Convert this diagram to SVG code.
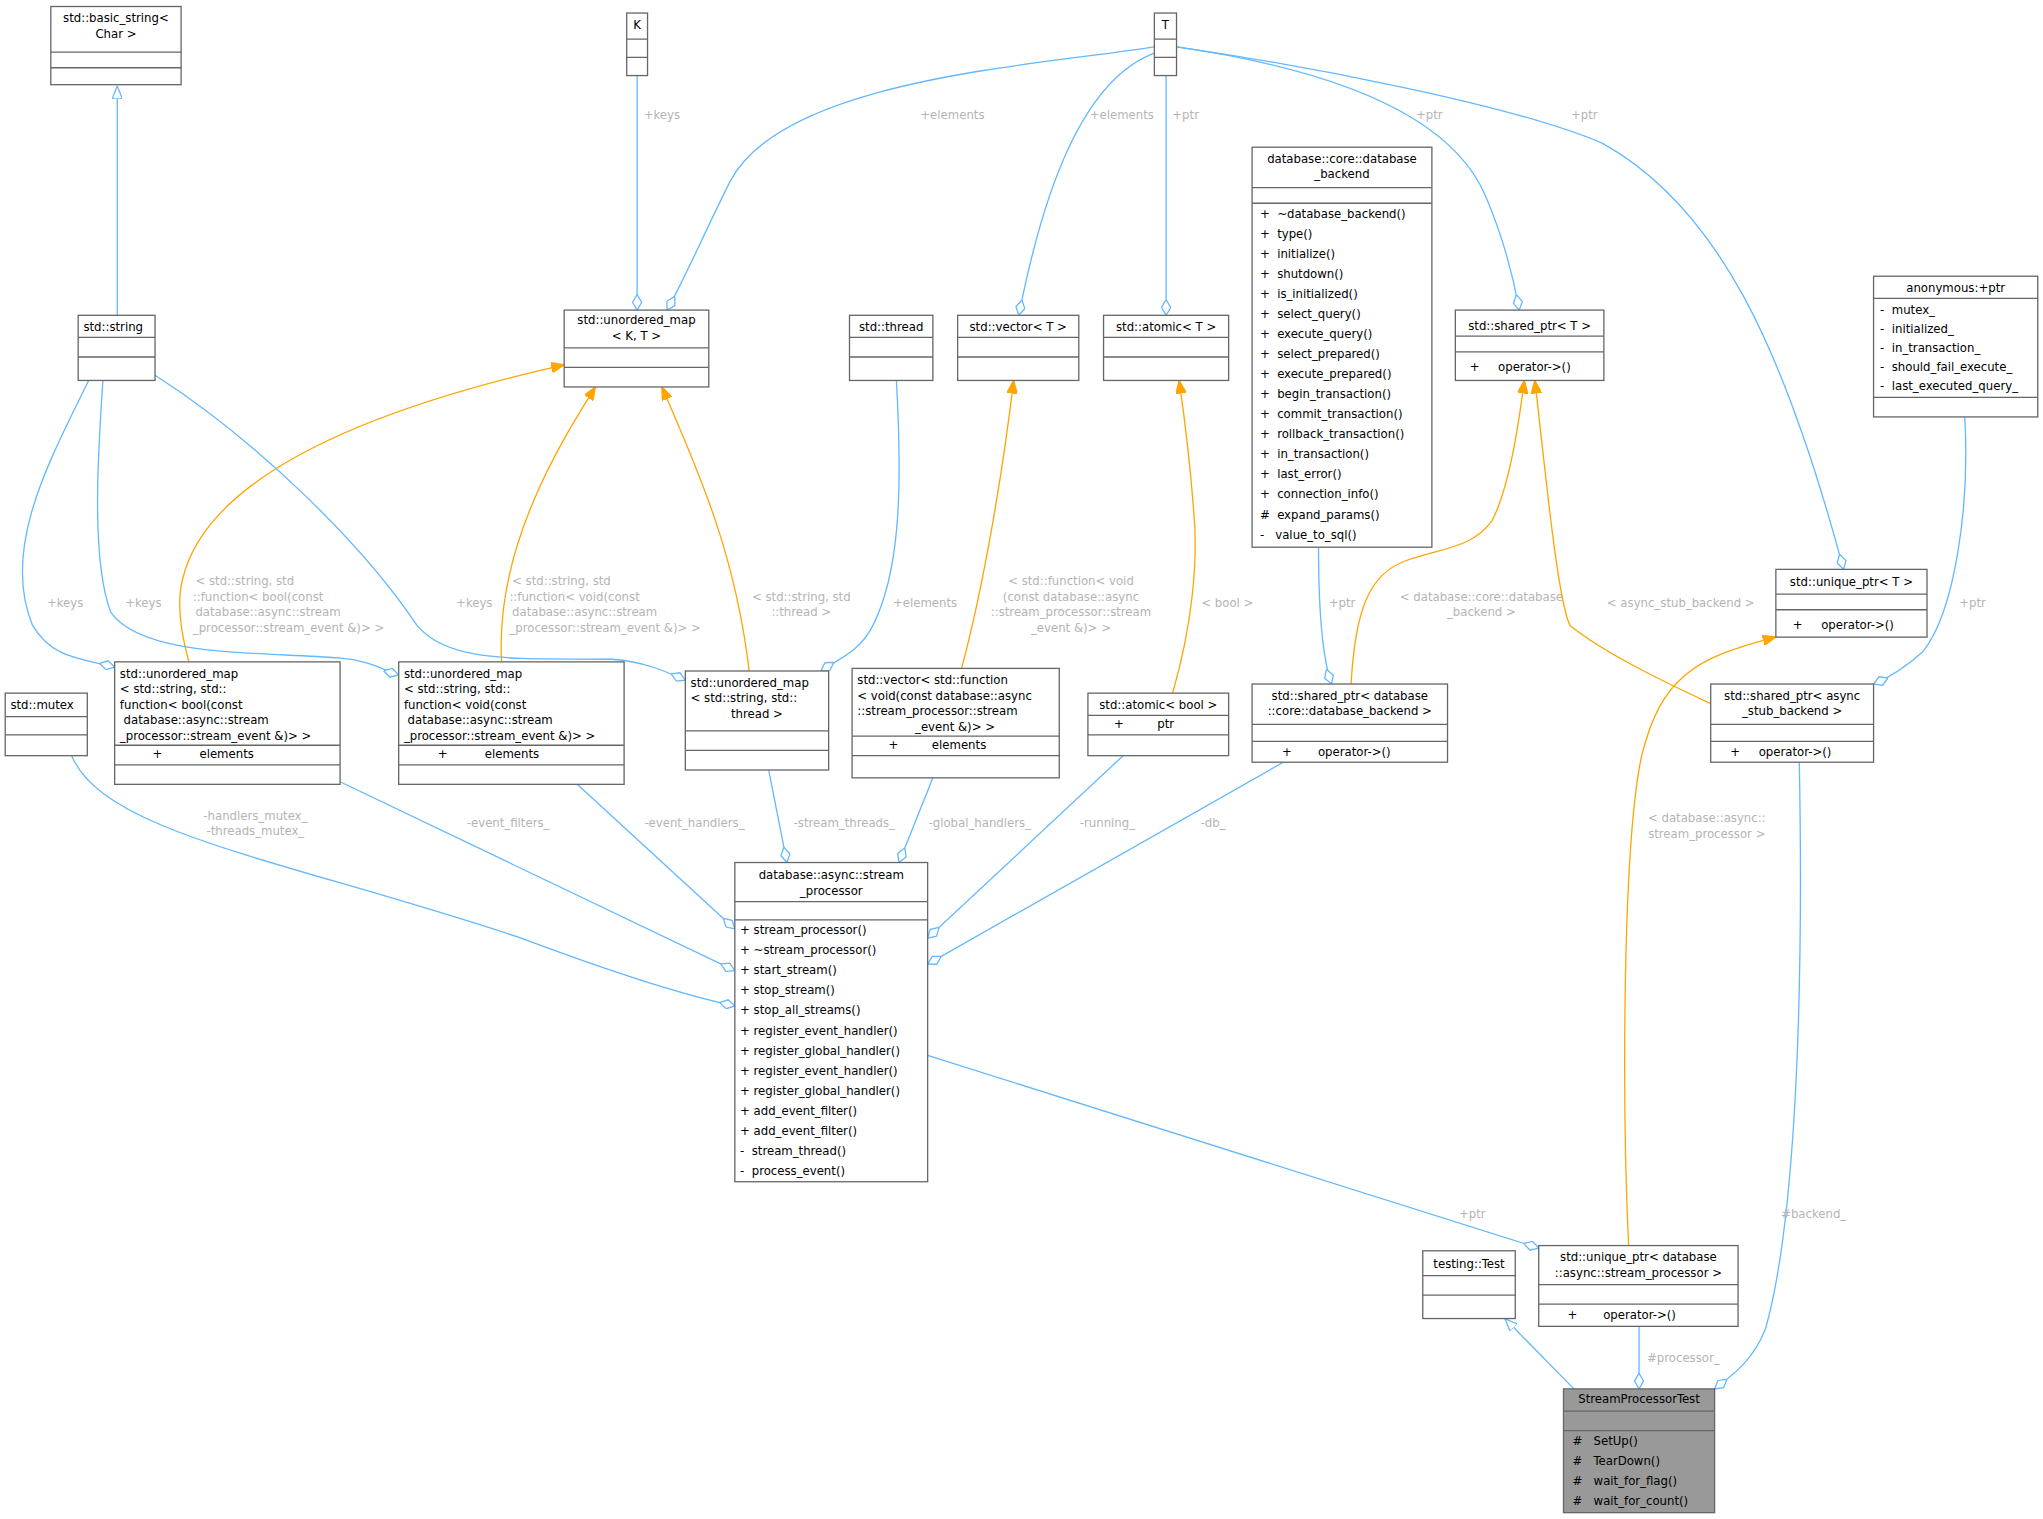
<svg xmlns="http://www.w3.org/2000/svg" width="2043" height="1519" viewBox="0 0 2043 1519" xml:space="preserve">
<style>
text{font-family:"DejaVu Sans Condensed","DejaVu Sans",sans-serif;font-size:10px;fill:#000;white-space:pre}
.m{text-anchor:middle}
.b{fill:#fff;stroke:#666;stroke-width:1}
.g{fill:#999;stroke:#666;stroke-width:1}
.s{stroke:#666;stroke-width:1}
.lbl{fill:#b4b4b4;text-anchor:middle}
.e{fill:none;stroke:#63b8ff;stroke-width:1;marker-end:url(#dia)}
.o{fill:none;stroke:#ffa500;stroke-width:1;marker-end:url(#arr)}
.i{fill:none;stroke:#63b8ff;stroke-width:1;marker-end:url(#tri)}
</style>
<defs>
<marker id="dia" viewBox="0 0 12 8" refX="12" refY="4" markerWidth="12" markerHeight="8" orient="auto" markerUnits="userSpaceOnUse"><path d="M0,4L6,0.5L12,4L6,7.5Z" fill="#fff" stroke="#63b8ff"/></marker>
<marker id="arr" viewBox="0 0 10 8" refX="10" refY="4" markerWidth="10" markerHeight="8" orient="auto" markerUnits="userSpaceOnUse"><path d="M0,0L10,4L0,8Z" fill="#ffa500" stroke="#ffa500"/></marker>
<marker id="tri" viewBox="0 0 10 8" refX="10" refY="4" markerWidth="10" markerHeight="8" orient="auto" markerUnits="userSpaceOnUse"><path d="M0,0L10,4L0,8Z" fill="#fff" stroke="#63b8ff"/></marker>
</defs>
<rect width="2043" height="1519" fill="#fff"/>
<g transform="scale(1.3029)">
<g id="edges">
<path class="i" d="M90,242L90,66"/>
<path class="e" d="M489,58L489,238"/><text class="lbl" x="508" y="91">+keys</text>
<path class="e" d="M886,36C800,50 600,60 560,140C540,180 525,215 512,238"/><text class="lbl" x="731" y="91">+elements</text>
<path class="e" d="M888,40C830,60 800,150 782,242"/><text class="lbl" x="861" y="91">+elements</text>
<path class="e" d="M895,58L895,242"/><text class="lbl" x="910" y="91">+ptr</text>
<path class="e" d="M903,36C1000,50 1110,80 1140,150C1155,185 1162,215 1166,238"/><text class="lbl" x="1097" y="91">+ptr</text>
<path class="e" d="M903,36C1000,50 1160,80 1230,110C1320,160 1370,270 1415,437"/><text class="lbl" x="1216" y="91">+ptr</text>
<path class="e" d="M1012,420C1012,470 1015,505 1022,525"/><text class="lbl" x="1030" y="466">+ptr</text>
<path class="e" d="M1508,320C1512,390 1500,470 1476,500C1465,510 1450,520 1438,525"/><text class="lbl" x="1514" y="466">+ptr</text>
<path class="o" d="M1037,525C1040,470 1050,440 1080,430C1110,420 1130,420 1145,400C1158,375 1165,330 1170,292"/><text class="lbl" x="1137" y="461">&lt; database::core::database</text><text class="lbl" x="1137" y="473">_backend &gt;</text>
<path class="o" d="M1313,540C1270,520 1230,500 1205,480C1195,460 1185,350 1178,292"/><text class="lbl" x="1290" y="466">&lt; async_stub_backend &gt;</text>
<path class="o" d="M1250,956C1245,850 1245,650 1260,580C1275,520 1300,505 1363,489"/><text class="lbl" x="1310" y="631">&lt; database::async::</text><text class="lbl" x="1310" y="643">stream_processor &gt;</text>
<path class="o" d="M145,508C140,490 135,465 140,445C160,360 300,310 433,280"/><text x="150" y="449" style="fill:#b4b4b4">&lt; std::string, std</text><text x="148" y="461" style="fill:#b4b4b4">::function&lt; bool(const</text><text x="150" y="473" style="fill:#b4b4b4">database::async::stream</text><text x="148" y="485" style="fill:#b4b4b4">_processor::stream_event &amp;)&gt; &gt;</text>
<path class="o" d="M385,508C380,420 430,340 457,297"/><text x="393" y="449" style="fill:#b4b4b4">&lt; std::string, std</text><text x="391" y="461" style="fill:#b4b4b4">::function&lt; void(const</text><text x="393" y="473" style="fill:#b4b4b4">database::async::stream</text><text x="391" y="485" style="fill:#b4b4b4">_processor::stream_event &amp;)&gt; &gt;</text>
<path class="o" d="M575,515C565,430 540,370 508,297"/><text class="lbl" x="615" y="461">&lt; std::string, std</text><text class="lbl" x="615" y="473">::thread &gt;</text>
<path class="o" d="M738,513C755,450 770,360 778,292"/><text class="lbl" x="822" y="449">&lt; std::function&lt; void</text><text class="lbl" x="822" y="461">(const database::async</text><text class="lbl" x="822" y="473">::stream_processor::stream</text><text class="lbl" x="822" y="485">_event &amp;)&gt; &gt;</text>
<path class="o" d="M900,532C915,480 920,430 916,390C913,350 909,320 905,292"/><text class="lbl" x="942" y="466">&lt; bool &gt;</text>
<path class="e" d="M68,292C40,350 0,420 25,480C40,505 60,505 88,512"/><text class="lbl" x="50" y="466">+keys</text>
<path class="e" d="M79,292C75,350 70,430 85,470C110,505 200,500 260,505C285,507 295,515 306,518"/><text class="lbl" x="110" y="466">+keys</text>
<path class="e" d="M119,288C200,340 280,420 320,480C345,510 400,505 470,506C495,508 510,515 526,522"/><text class="lbl" x="364" y="466">+keys</text>
<path class="e" d="M688,292C693,380 690,440 670,480C660,500 645,505 630,515"/><text class="lbl" x="710" y="466">+elements</text>
<path class="e" d="M55,580C80,640 220,660 400,720C480,750 530,765 564,772"/><text class="lbl" x="196" y="629">-handlers_mutex_</text><text class="lbl" x="196" y="641">-threads_mutex_</text>
<path class="e" d="M261,600L564,745"/><text class="lbl" x="390" y="635">-event_filters_</text>
<path class="e" d="M443,602L564,713"/><text class="lbl" x="533" y="635">-event_handlers_</text>
<path class="e" d="M590,591L604,662"/><text class="lbl" x="648" y="635">-stream_threads_</text>
<path class="e" d="M716,597L690,662"/><text class="lbl" x="752" y="635">-global_handlers_</text>
<path class="e" d="M862,580L712,720"/><text class="lbl" x="850" y="635">-running_</text>
<path class="e" d="M985,585L712,740"/><text class="lbl" x="931" y="635">-db_</text>
<path class="e" d="M712,810L1181,958"/><text class="lbl" x="1130" y="935">+ptr</text>
<path class="e" d="M1258,1018L1258,1066"/><text class="lbl" x="1292" y="1045">#processor_</text>
<path class="e" d="M1381,585C1385,800 1375,950 1355,1020C1345,1045 1330,1055 1316,1066"/><text class="lbl" x="1392" y="935">#backend_</text>
<path class="i" d="M1208,1066L1155,1012"/>
</g>
<g id="basic_string"><rect class="b" x="39" y="5" width="100" height="60"/><text class="m" x="89" y="17">std::basic_string&lt;</text><text class="m" x="89" y="29">Char &gt;</text><path class="s" d="M39,40H139M39,52H139"/></g>
<g id="K"><rect class="b" x="481" y="10" width="16" height="48"/><text class="m" x="489" y="22">K</text><path class="s" d="M481,30H497M481,44H497"/></g>
<g id="T"><rect class="b" x="886" y="10" width="17" height="48"/><text class="m" x="894.5" y="22">T</text><path class="s" d="M886,30H903M886,44H903"/></g>
<g id="string"><rect class="b" x="60" y="242" width="59" height="50"/><text x="64" y="254">std::string</text><path class="s" d="M60,259H119M60,274H119"/></g>
<g id="umapKT"><rect class="b" x="433" y="238" width="111" height="59"/><text class="m" x="488.5" y="249">std::unordered_map</text><text class="m" x="488.5" y="261">&lt; K, T &gt;</text><path class="s" d="M433,267H544M433,282H544"/></g>
<g id="thread"><rect class="b" x="652" y="242" width="64" height="50"/><text class="m" x="684" y="254">std::thread</text><path class="s" d="M652,259H716M652,274H716"/></g>
<g id="vectorT"><rect class="b" x="735" y="242" width="93" height="50"/><text class="m" x="781.5" y="254">std::vector&lt; T &gt;</text><path class="s" d="M735,259H828M735,274H828"/></g>
<g id="atomicT"><rect class="b" x="847" y="242" width="96" height="50"/><text class="m" x="895" y="254">std::atomic&lt; T &gt;</text><path class="s" d="M847,259H943M847,274H943"/></g>
<g id="db_backend"><rect class="b" x="961" y="113" width="138" height="307"/><text class="m" x="1030" y="125">database::core::database</text><text class="m" x="1030" y="137">_backend</text><path class="s" d="M961,144H1099M961,156H1099"/>
<text x="967" y="167">+  ~database_backend()</text><text x="967" y="182.4">+  type()</text><text x="967" y="197.8">+  initialize()</text><text x="967" y="213.2">+  shutdown()</text><text x="967" y="228.6">+  is_initialized()</text><text x="967" y="244">+  select_query()</text><text x="967" y="259.4">+  execute_query()</text><text x="967" y="274.8">+  select_prepared()</text><text x="967" y="290.2">+  execute_prepared()</text><text x="967" y="305.6">+  begin_transaction()</text><text x="967" y="321">+  commit_transaction()</text><text x="967" y="336.4">+  rollback_transaction()</text><text x="967" y="351.8">+  in_transaction()</text><text x="967" y="367.2">+  last_error()</text><text x="967" y="382.6">+  connection_info()</text><text x="967" y="398">#  expand_params()</text><text x="967" y="413.4">-   value_to_sql()</text></g>
<g id="sharedT"><rect class="b" x="1117" y="238" width="114" height="54"/><text class="m" x="1174" y="253">std::shared_ptr&lt; T &gt;</text><path class="s" d="M1117,258H1231M1117,270H1231"/><text x="1128" y="285">+     operator-&gt;()</text></g>
<g id="anon"><rect class="b" x="1438" y="212" width="126" height="108"/><text class="m" x="1501" y="224">anonymous:+ptr</text><path class="s" d="M1438,229H1564M1438,305H1564"/><text x="1443" y="241">-  mutex_</text><text x="1443" y="255.5">-  initialized_</text><text x="1443" y="270">-  in_transaction_</text><text x="1443" y="284.5">-  should_fail_execute_</text><text x="1443" y="299">-  last_executed_query_</text></g>
<g id="uniqueT"><rect class="b" x="1363" y="437" width="116" height="52"/><text class="m" x="1421" y="450">std::unique_ptr&lt; T &gt;</text><path class="s" d="M1363,456H1479M1363,468H1479"/><text x="1376" y="483">+     operator-&gt;()</text></g>
<g id="shared_db"><rect class="b" x="961" y="525" width="150" height="60"/><text class="m" x="1036" y="537">std::shared_ptr&lt; database</text><text class="m" x="1036" y="549">::core::database_backend &gt;</text><path class="s" d="M961,556H1111M961,569H1111"/><text x="984" y="580">+       operator-&gt;()</text></g>
<g id="shared_stub"><rect class="b" x="1313" y="525" width="125" height="60"/><text class="m" x="1375.5" y="537">std::shared_ptr&lt; async</text><text class="m" x="1375.5" y="549">_stub_backend &gt;</text><path class="s" d="M1313,556H1438M1313,569H1438"/><text x="1328" y="580">+     operator-&gt;()</text></g>
<g id="mutex"><rect class="b" x="4" y="532" width="63" height="48"/><text x="8" y="544">std::mutex</text><path class="s" d="M4,550H67M4,564H67"/></g>
<g id="umap_bool"><rect class="b" x="88" y="508" width="173" height="94"/><text x="92" y="520">std::unordered_map</text><text x="92" y="532">&lt; std::string, std::</text><text x="92" y="544">function&lt; bool(const</text><text x="92" y="556"> database::async::stream</text><text x="92" y="568">_processor::stream_event &amp;)&gt; &gt;</text><path class="s" d="M88,572H261M88,587H261"/><text x="117" y="582">+          elements</text></g>
<g id="umap_void"><rect class="b" x="306" y="508" width="173" height="94"/><text x="310" y="520">std::unordered_map</text><text x="310" y="532">&lt; std::string, std::</text><text x="310" y="544">function&lt; void(const</text><text x="310" y="556"> database::async::stream</text><text x="310" y="568">_processor::stream_event &amp;)&gt; &gt;</text><path class="s" d="M306,572H479M306,587H479"/><text x="336" y="582">+          elements</text></g>
<g id="umap_thread"><rect class="b" x="526" y="515" width="110" height="76"/><text x="530" y="527">std::unordered_map</text><text x="530" y="539">&lt; std::string, std::</text><text class="m" x="581" y="551">thread &gt;</text><path class="s" d="M526,561H636M526,576H636"/></g>
<g id="vector_func"><rect class="b" x="654" y="513" width="159" height="84"/><text x="658" y="525">std::vector&lt; std::function</text><text x="658" y="537">&lt; void(const database::async</text><text x="658" y="549">::stream_processor::stream</text><text class="m" x="733" y="561">_event &amp;)&gt; &gt;</text><path class="s" d="M654,565H813M654,580H813"/><text x="682" y="575">+         elements</text></g>
<g id="atomic_bool"><rect class="b" x="835" y="532" width="108" height="48"/><text class="m" x="889" y="544">std::atomic&lt; bool &gt;</text><path class="s" d="M835,549H943M835,564H943"/><text x="855" y="559">+         ptr</text></g>
<g id="stream_processor"><rect class="b" x="564" y="662" width="148" height="245"/><text class="m" x="638" y="675">database::async::stream</text><text class="m" x="638" y="687">_processor</text><path class="s" d="M564,692H712M564,706H712"/>
<text x="568" y="717">+ stream_processor()</text><text x="568" y="732.4">+ ~stream_processor()</text><text x="568" y="747.8">+ start_stream()</text><text x="568" y="763.2">+ stop_stream()</text><text x="568" y="778.6">+ stop_all_streams()</text><text x="568" y="794">+ register_event_handler()</text><text x="568" y="809.4">+ register_global_handler()</text><text x="568" y="824.8">+ register_event_handler()</text><text x="568" y="840.2">+ register_global_handler()</text><text x="568" y="855.6">+ add_event_filter()</text><text x="568" y="871">+ add_event_filter()</text><text x="568" y="886.4">-  stream_thread()</text><text x="568" y="901.8">-  process_event()</text></g>
<g id="testing_test"><rect class="b" x="1092" y="960" width="71" height="52"/><text class="m" x="1127.5" y="973">testing::Test</text><path class="s" d="M1092,979H1163M1092,994H1163"/></g>
<g id="unique_sp"><rect class="b" x="1181" y="956" width="153" height="62"/><text class="m" x="1257.5" y="968">std::unique_ptr&lt; database</text><text class="m" x="1257.5" y="980">::async::stream_processor &gt;</text><path class="s" d="M1181,986H1334M1181,1001H1334"/><text x="1203" y="1012">+       operator-&gt;()</text></g>
<g id="StreamProcessorTest"><rect class="g" x="1200" y="1066" width="116" height="95"/><text class="m" x="1258" y="1077">StreamProcessorTest</text><path class="s" d="M1200,1083H1316M1200,1098H1316"/><text x="1207" y="1109">#   SetUp()</text><text x="1207" y="1124.4">#   TearDown()</text><text x="1207" y="1139.8">#   wait_for_flag()</text><text x="1207" y="1155.2">#   wait_for_count()</text></g>
</g>
</svg>
